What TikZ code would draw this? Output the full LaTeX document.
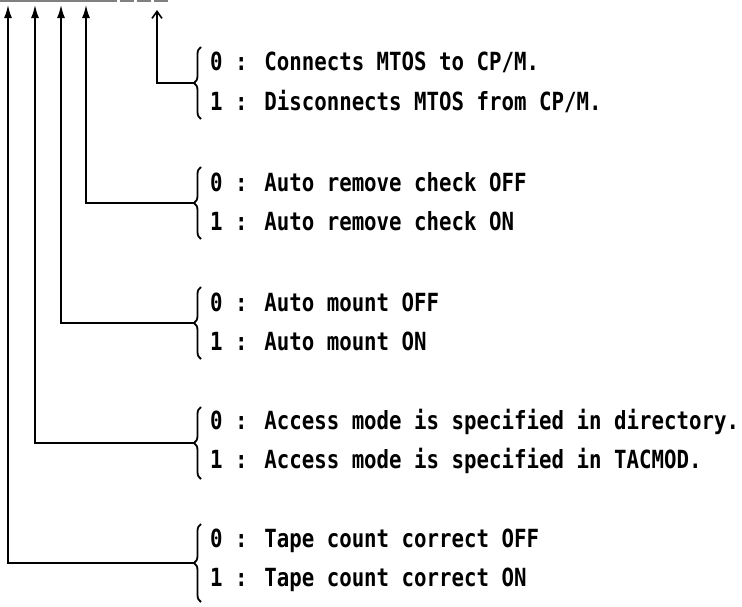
\documentclass[tikz,border=0pt]{standalone}
\usepackage{fontspec}
\newfontfamily\bitfont[FakeStretch=0.83]{DejaVu Sans Mono}
\usetikzlibrary{arrows.meta, decorations.pathreplacing}

\begin{document}
\begin{tikzpicture}[
    x=1pt, y=-1pt,
    opt/.style      = {anchor=west, inner sep=0pt,
                       font=\bitfont\bfseries\fontsize{25}{26}\selectfont},
    curly/.style    = {decorate, decoration={brace, amplitude=7pt}, line width=1.8pt},
    bitline/.style  = {line width=1.6pt, -{Latex[length=13pt, width=8pt]}},
    bitlineb/.style = {line width=1.6pt, -{Straight Barb[length=7pt, width=10pt]}},
]
\useasboundingbox (0,0) rectangle (742,606);

% edge of the register box, cut off at the top
\draw[gray, line width=1.2pt] (0,1) -- (117,1);
\draw[gray, line width=1.2pt, dash pattern=on 14pt off 3pt] (120,1) -- (170,1);

% bit columns
\coordinate (b0) at (8,5);
\coordinate (b1) at (35,5);
\coordinate (b2) at (61,5);
\coordinate (b3) at (86,5);
\coordinate (b4) at (157,10);

% option texts
\node[opt] (cpm0)  at (210,62)  {0 : Connects MTOS to CP/M.};
\node[opt] (cpm1)  at (210,101) {1 : Disconnects MTOS from CP/M.};
\node[opt] (rmv0)  at (210,182) {0 : Auto remove check OFF};
\node[opt] (rmv1)  at (210,221) {1 : Auto remove check ON};
\node[opt] (mnt0)  at (210,302) {0 : Auto mount OFF};
\node[opt] (mnt1)  at (210,341) {1 : Auto mount ON};
\node[opt] (acc0)  at (210,422) {0 : Access mode is specified in directory.};
\node[opt] (acc1)  at (210,461) {1 : Access mode is specified in TACMOD.};
\node[opt] (tape0) at (210,541) {0 : Tape count correct OFF};
\node[opt] (tape1) at (210,580) {1 : Tape count correct ON};

% braces
\draw[curly] (201,119) -- (201,47);
\draw[curly] (201,239) -- (201,167);
\draw[curly] (201,359) -- (201,287);
\draw[curly] (201,479) -- (201,407);
\draw[curly] (201,602) -- (201,524);

\coordinate (cpmtip)  at (194,83);
\coordinate (rmvtip)  at (194,203);
\coordinate (mnttip)  at (194,323);
\coordinate (acctip)  at (194,443);
\coordinate (tapetip) at (194,563);

% connectors
\draw[bitlineb] (cpmtip)  -| (b4);
\draw[bitline]  (rmvtip)  -| (b3);
\draw[bitline]  (mnttip)  -| (b2);
\draw[bitline]  (acctip)  -| (b1);
\draw[bitline]  (tapetip) -| (b0);

\end{tikzpicture}
\end{document}
